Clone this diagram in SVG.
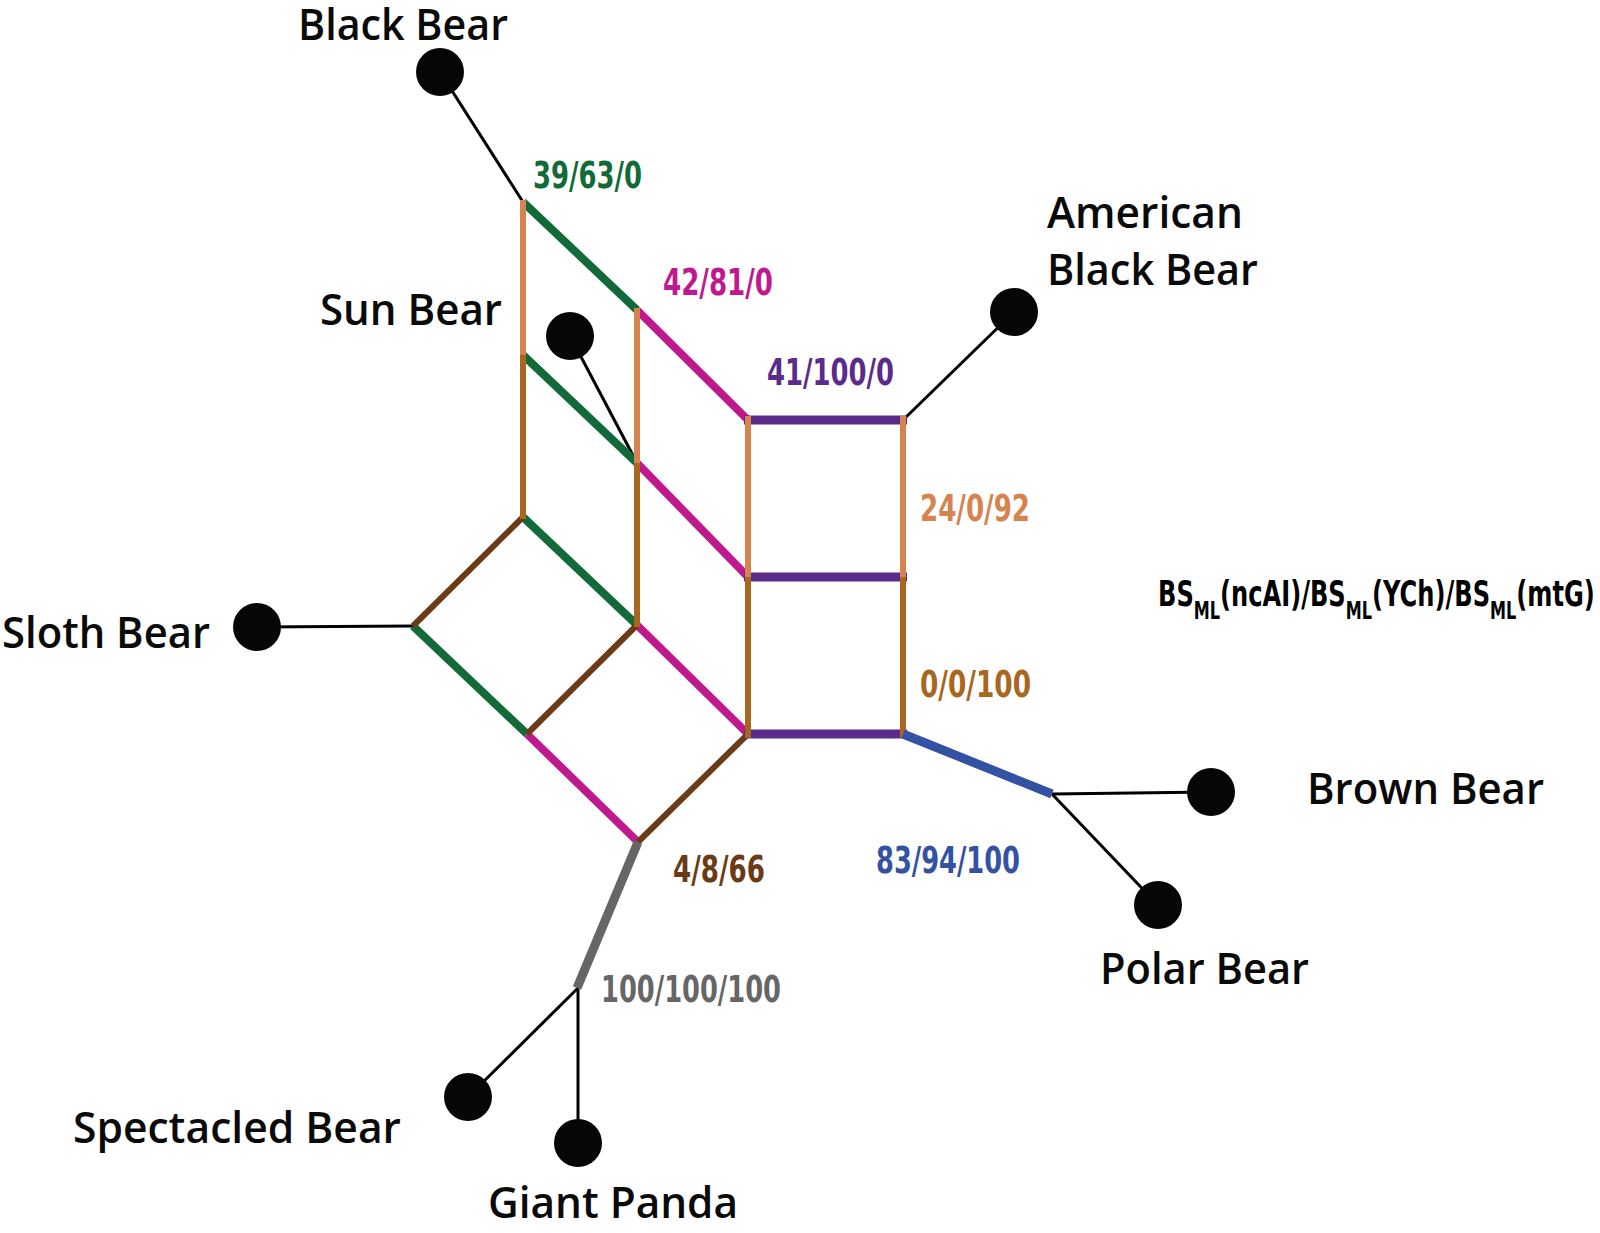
<svg xmlns="http://www.w3.org/2000/svg" width="1600" height="1233" viewBox="0 0 1600 1233">
<style>
.sp{font-family:'Open Sans','Noto Sans','Liberation Sans',sans-serif;font-size:43px;font-weight:600;fill:#0a0a0a}
.lb{font-family:'Liberation Sans Narrow','DejaVu Sans Condensed','Liberation Sans',sans-serif;font-weight:bold;font-size:38px}
.dot{fill:#060606}
.tip{stroke:#000;stroke-width:3;fill:none}
.g{stroke:#116a37;stroke-width:8}
.m{stroke:#bf198f;stroke-width:8}
.p{stroke:#5b2b8c;stroke-width:9}
.lo{stroke:#d5834f;stroke-width:6}
.do{stroke:#a9661f;stroke-width:6}
.br{stroke:#6b3a16;stroke-width:6}
.gr{stroke:#666666;stroke-width:9}
.bl{stroke:#3452a4;stroke-width:9}
</style>
<rect width="1600" height="1233" fill="#ffffff"/>
<g id="connectors" fill="none">
  <g id="tips" class="tip">
    <line x1="440" y1="72" x2="523" y2="202"/>
    <line x1="570" y1="336" x2="637" y2="463"/>
    <line x1="903" y1="420" x2="1014" y2="312"/>
    <line x1="257" y1="627" x2="413" y2="626"/>
    <line x1="1052" y1="794" x2="1211" y2="792"/>
    <line x1="1052" y1="794" x2="1158" y2="905"/>
    <line x1="578" y1="988" x2="468" y2="1097"/>
    <line x1="578" y1="988" x2="578" y2="1143"/>
  </g>
  <g id="green">
    <line class="g" x1="523" y1="202" x2="637" y2="310"/>
    <line class="g" x1="523" y1="355" x2="637" y2="463"/>
    <line class="g" x1="523" y1="517" x2="637" y2="625"/>
    <line class="g" x1="413" y1="626" x2="527" y2="734"/>
  </g>
  <g id="magenta">
    <line class="m" x1="637" y1="310" x2="748" y2="420"/>
    <line class="m" x1="637" y1="463" x2="748" y2="577"/>
    <line class="m" x1="637" y1="625" x2="748" y2="734"/>
    <line class="m" x1="527" y1="734" x2="638" y2="842"/>
  </g>
  <g id="brown">
    <line class="br" x1="523" y1="517" x2="413" y2="626"/>
    <line class="br" x1="637" y1="625" x2="527" y2="734"/>
    <line class="br" x1="748" y1="734" x2="638" y2="842"/>
  </g>
  <g id="purple">
    <line class="p" x1="744" y1="420" x2="907" y2="420"/>
    <line class="p" x1="744" y1="577" x2="907" y2="577"/>
    <line class="p" x1="744" y1="734" x2="907" y2="734"/>
  </g>
  <g id="light-orange">
    <line class="lo" x1="523" y1="200" x2="523" y2="355"/>
    <line class="lo" x1="637" y1="308" x2="637" y2="463"/>
    <line class="lo" x1="748" y1="416" x2="748" y2="577"/>
    <line class="lo" x1="903" y1="416" x2="903" y2="577"/>
  </g>
  <g id="dark-orange">
    <line class="do" x1="523" y1="355" x2="523" y2="519"/>
    <line class="do" x1="637" y1="463" x2="637" y2="627"/>
    <line class="do" x1="748" y1="577" x2="748" y2="738"/>
    <line class="do" x1="903" y1="577" x2="903" y2="738"/>
  </g>
  <line id="gray" class="gr" x1="638" y1="842" x2="577" y2="988"/>
  <line id="blue" class="bl" x1="903" y1="734" x2="1052" y2="794"/>
</g>
<g id="support-labels" class="lb">
  <text x="533" y="188" fill="#116a37" textLength="109" lengthAdjust="spacingAndGlyphs">39/63/0</text>
  <text x="663" y="295" fill="#bf198f" textLength="110" lengthAdjust="spacingAndGlyphs">42/81/0</text>
  <text x="767" y="385" fill="#5b2b8c" textLength="127" lengthAdjust="spacingAndGlyphs">41/100/0</text>
  <text x="920" y="521" fill="#d5834f" textLength="110" lengthAdjust="spacingAndGlyphs">24/0/92</text>
  <text x="920" y="697" fill="#a9661f" textLength="111" lengthAdjust="spacingAndGlyphs">0/0/100</text>
  <text x="673" y="882" fill="#6b3a16" textLength="92" lengthAdjust="spacingAndGlyphs">4/8/66</text>
  <text x="601" y="1002" fill="#666666" textLength="180" lengthAdjust="spacingAndGlyphs">100/100/100</text>
  <text x="876" y="873" fill="#3452a4" textLength="144" lengthAdjust="spacingAndGlyphs">83/94/100</text>
</g>
<g id="legend">
  <text class="lb" transform="translate(1158,606) scale(0.745,1)" fill="#000" style="font-size:36px">BS<tspan dy="13" style="font-size:24px">ML</tspan><tspan dy="-13">(ncAI)/BS</tspan><tspan dy="13" style="font-size:24px">ML</tspan><tspan dy="-13">(YCh)/BS</tspan><tspan dy="13" style="font-size:24px">ML</tspan><tspan dy="-13">(mtG)</tspan></text>
</g>
<g id="node-black-bear">
  <circle class="dot" cx="440" cy="72" r="24"/>
  <text class="sp" x="298" y="40" textLength="210" lengthAdjust="spacingAndGlyphs">Black Bear</text>
</g>
<g id="node-sun-bear">
  <circle class="dot" cx="570" cy="336" r="24"/>
  <text class="sp" x="320" y="325" textLength="182" lengthAdjust="spacingAndGlyphs">Sun Bear</text>
</g>
<g id="node-american-black-bear">
  <circle class="dot" cx="1014" cy="312" r="24"/>
  <text class="sp" x="1047" y="228" textLength="196" lengthAdjust="spacingAndGlyphs">American</text>
  <text class="sp" x="1047" y="285" textLength="211" lengthAdjust="spacingAndGlyphs">Black Bear</text>
</g>
<g id="node-sloth-bear">
  <circle class="dot" cx="257" cy="627" r="24"/>
  <text class="sp" x="2" y="648" textLength="208" lengthAdjust="spacingAndGlyphs">Sloth Bear</text>
</g>
<g id="node-brown-bear">
  <circle class="dot" cx="1211" cy="792" r="24"/>
  <text class="sp" x="1307" y="804" textLength="237" lengthAdjust="spacingAndGlyphs">Brown Bear</text>
</g>
<g id="node-polar-bear">
  <circle class="dot" cx="1158" cy="905" r="24"/>
  <text class="sp" x="1100" y="984" textLength="209" lengthAdjust="spacingAndGlyphs">Polar Bear</text>
</g>
<g id="node-spectacled-bear">
  <circle class="dot" cx="468" cy="1097" r="24"/>
  <text class="sp" x="73" y="1143" textLength="328" lengthAdjust="spacingAndGlyphs">Spectacled Bear</text>
</g>
<g id="node-giant-panda">
  <circle class="dot" cx="578" cy="1143" r="24"/>
  <text class="sp" x="488" y="1218" textLength="250" lengthAdjust="spacingAndGlyphs">Giant Panda</text>
</g>
</svg>
